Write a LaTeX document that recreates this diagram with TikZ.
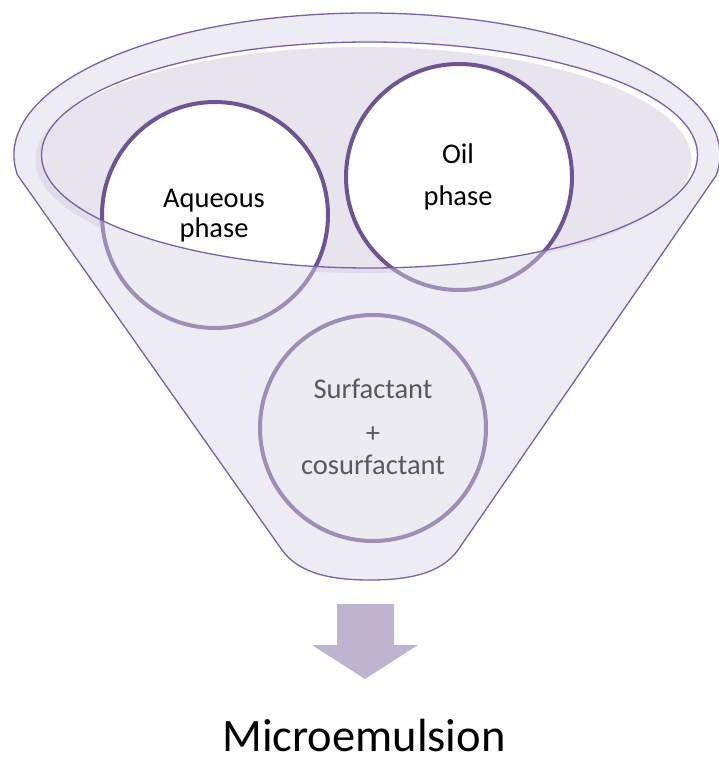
\documentclass[tikz,border=0pt]{standalone}
\usepackage{fontspec}
\setmainfont{Carlito}
\definecolor{rim}{RGB}{122,96,166}
\definecolor{ring}{RGB}{110,84,148}
\definecolor{bowl}{RGB}{232,228,238}
\definecolor{veil}{RGB}{216,211,228}
\definecolor{arrowc}{RGB}{190,180,210}
\definecolor{grayt}{RGB}{89,89,89}
\begin{document}
\begin{tikzpicture}[x=1pt,y=-1pt,
  phasecircle/.style={circle, draw=ring, line width=4pt, fill=white, minimum size=226pt, inner sep=0pt},
  lbl/.style={anchor=base, font=\fontsize{28.5}{30}\selectfont, inner sep=0pt},
  outline/.style={draw=rim, line width=1.3pt}]
\useasboundingbox (0,0) rectangle (718,760);
% inner bowl fill (offset, gives shadow and highlight)
\fill[bowl] (363.5,160) ellipse [x radius=328, y radius=113];
% circles
\node[phasecircle] (aq) at (215,215) {};
\node[phasecircle] (oil) at (459,177) {};
\node[phasecircle] (surf) at (373,428) {};
% translucent funnel front
\fill[veil, fill opacity=0.45, even odd rule]
  (17.5,175) arc[start angle=171.9, end angle=368.1, x radius=353, y radius=142]
  -- (458,550) .. controls (440,575) and (405,580) .. (370,580)
  .. controls (335,580) and (300,575) .. (282,550) -- cycle
  (369.5,155) ellipse [x radius=328, y radius=113];
% outlines
\draw[outline] (17.5,175) arc[start angle=171.9, end angle=368.1, x radius=353, y radius=142]
  -- (458,550) .. controls (440,575) and (405,580) .. (370,580)
  .. controls (335,580) and (300,575) .. (282,550) -- cycle;
\draw[outline] (369.5,155) ellipse [x radius=328, y radius=113];
% labels
\node[lbl] (aq1) at (214,207) {Aqueous};
\node[lbl] (aq2) at (214,237) {phase};
\node[lbl] (oil1) at (458,163) {Oil};
\node[lbl] (oil2) at (458,205) {phase};
\node[lbl, text=grayt] (s1) at (373,398) {Surfactant};
\node[lbl, text=grayt] (s2) at (373,442) {+};
\node[lbl, text=grayt] (s3) at (373,474) {cosurfactant};
% arrow
\fill[arrowc] (337,604) -- (394,604) -- (394,645) -- (418,645) -- (365,679) -- (312,645) -- (337,645) -- cycle;
\node[anchor=base, font=\fontsize{46.5}{50}\selectfont, inner sep=0pt] (micro) at (364,751) {Microemulsion};
\end{tikzpicture}
\end{document}
